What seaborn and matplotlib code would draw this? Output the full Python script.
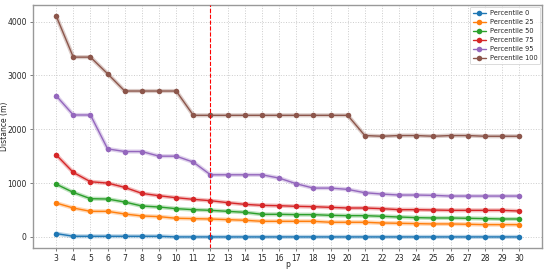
import matplotlib
matplotlib.use("Agg")
import matplotlib.pyplot as plt
import numpy as np
import pandas as pd
import seaborn as sns

p_values = list(range(3, 31))

pct_0 = [62, 12, 12, 12, 12, 12, 12, 0, 0, 0, 0, 0, 0, 0, 0, 0, 0, 0, 0, 0,
         0, 0, 0, 0, 0, 0, 0, 0]
pct_25 = [630, 537, 475, 475, 426, 389, 377, 346, 340, 333, 321, 309, 290, 290,
          290, 290, 272, 272, 272, 259, 253, 247, 241, 241, 235, 228, 228, 228]
pct_50 = [981, 827, 710, 704, 648, 574, 556, 525, 506, 494, 475, 457, 420, 420,
          414, 414, 401, 395, 395, 383, 370, 358, 352, 352, 346, 340, 333, 333]
pct_75 = [1525, 1198, 1025, 1000, 920, 809, 765, 728, 698, 673, 636, 605, 586,
          580, 568, 562, 549, 537, 537, 525, 506, 506, 500, 494, 494, 494, 494, 481]
pct_95 = [2623, 2265, 2265, 1636, 1586, 1586, 1500, 1500, 1389, 1154, 1154, 1154,
          1154, 1093, 988, 907, 907, 883, 821, 796, 778, 778, 772, 759, 759, 759,
          759, 759]
pct_100 = [4105, 3340, 3340, 3031, 2710, 2710, 2710, 2710, 2259, 2259, 2259, 2259,
           2259, 2259, 2259, 2259, 2259, 2259, 1883, 1870, 1883, 1883, 1870, 1883,
           1883, 1870, 1870, 1870]

series_names = ["Percentile 0", "Percentile 25", "Percentile 50",
                "Percentile 75", "Percentile 95", "Percentile 100"]
series_values = [pct_0, pct_25, pct_50, pct_75, pct_95, pct_100]
chosen_p = 12

frames = [pd.DataFrame({"p": p_values, "distance": vals, "series": name})
          for name, vals in zip(series_names, series_values)]
df = pd.concat(frames, ignore_index=True)

sns.set_style("ticks")
plt.rcParams.update({"font.family": ["DejaVu Sans"], "font.size": 5.5})

fig = plt.figure(figsize=(5.5, 2.71), dpi=100)
ax = fig.add_axes([0.06, 0.085, 0.926, 0.897])

palette = sns.color_palette("tab10", 6)
# faint halo under each line, like the thin bands in the original
for name, color in zip(series_names, palette):
    sub = df[df["series"] == name]
    ax.plot(sub["p"], sub["distance"], color=color, lw=3, alpha=0.3, zorder=1)

sns.lineplot(data=df, x="p", y="distance", hue="series", palette=palette,
             marker="o", markersize=4, markeredgewidth=0, linewidth=1,
             ax=ax, zorder=2)

ax.axvline(chosen_p, color="red", ls="--", lw=0.8, zorder=3)

ax.set_xticks(p_values)
ax.set_yticks([0, 1000, 2000, 3000, 4000])
ax.grid(True, ls=":", color="#cccccc", lw=0.7)
ax.set_xlabel("p", fontsize=5.5)
ax.set_ylabel("Distance (m)", fontsize=5.5)
ax.yaxis.set_label_coords(-0.047, 0.5)
ax.xaxis.set_label_coords(0.5, -0.05)
ax.tick_params(labelsize=5.5, length=2.5, width=0.6, color="#666666", pad=2)
for spine in ax.spines.values():
    spine.set_color("#999999")
    spine.set_linewidth(1)

leg = ax.legend(loc="upper right", fontsize=4.8, title=None, frameon=True,
                handlelength=1.9, handletextpad=0.6, borderpad=0.45,
                labelspacing=0.45, borderaxespad=0.3)
leg.get_frame().set_linewidth(0.6)

fig.savefig("out.png", dpi=100)
